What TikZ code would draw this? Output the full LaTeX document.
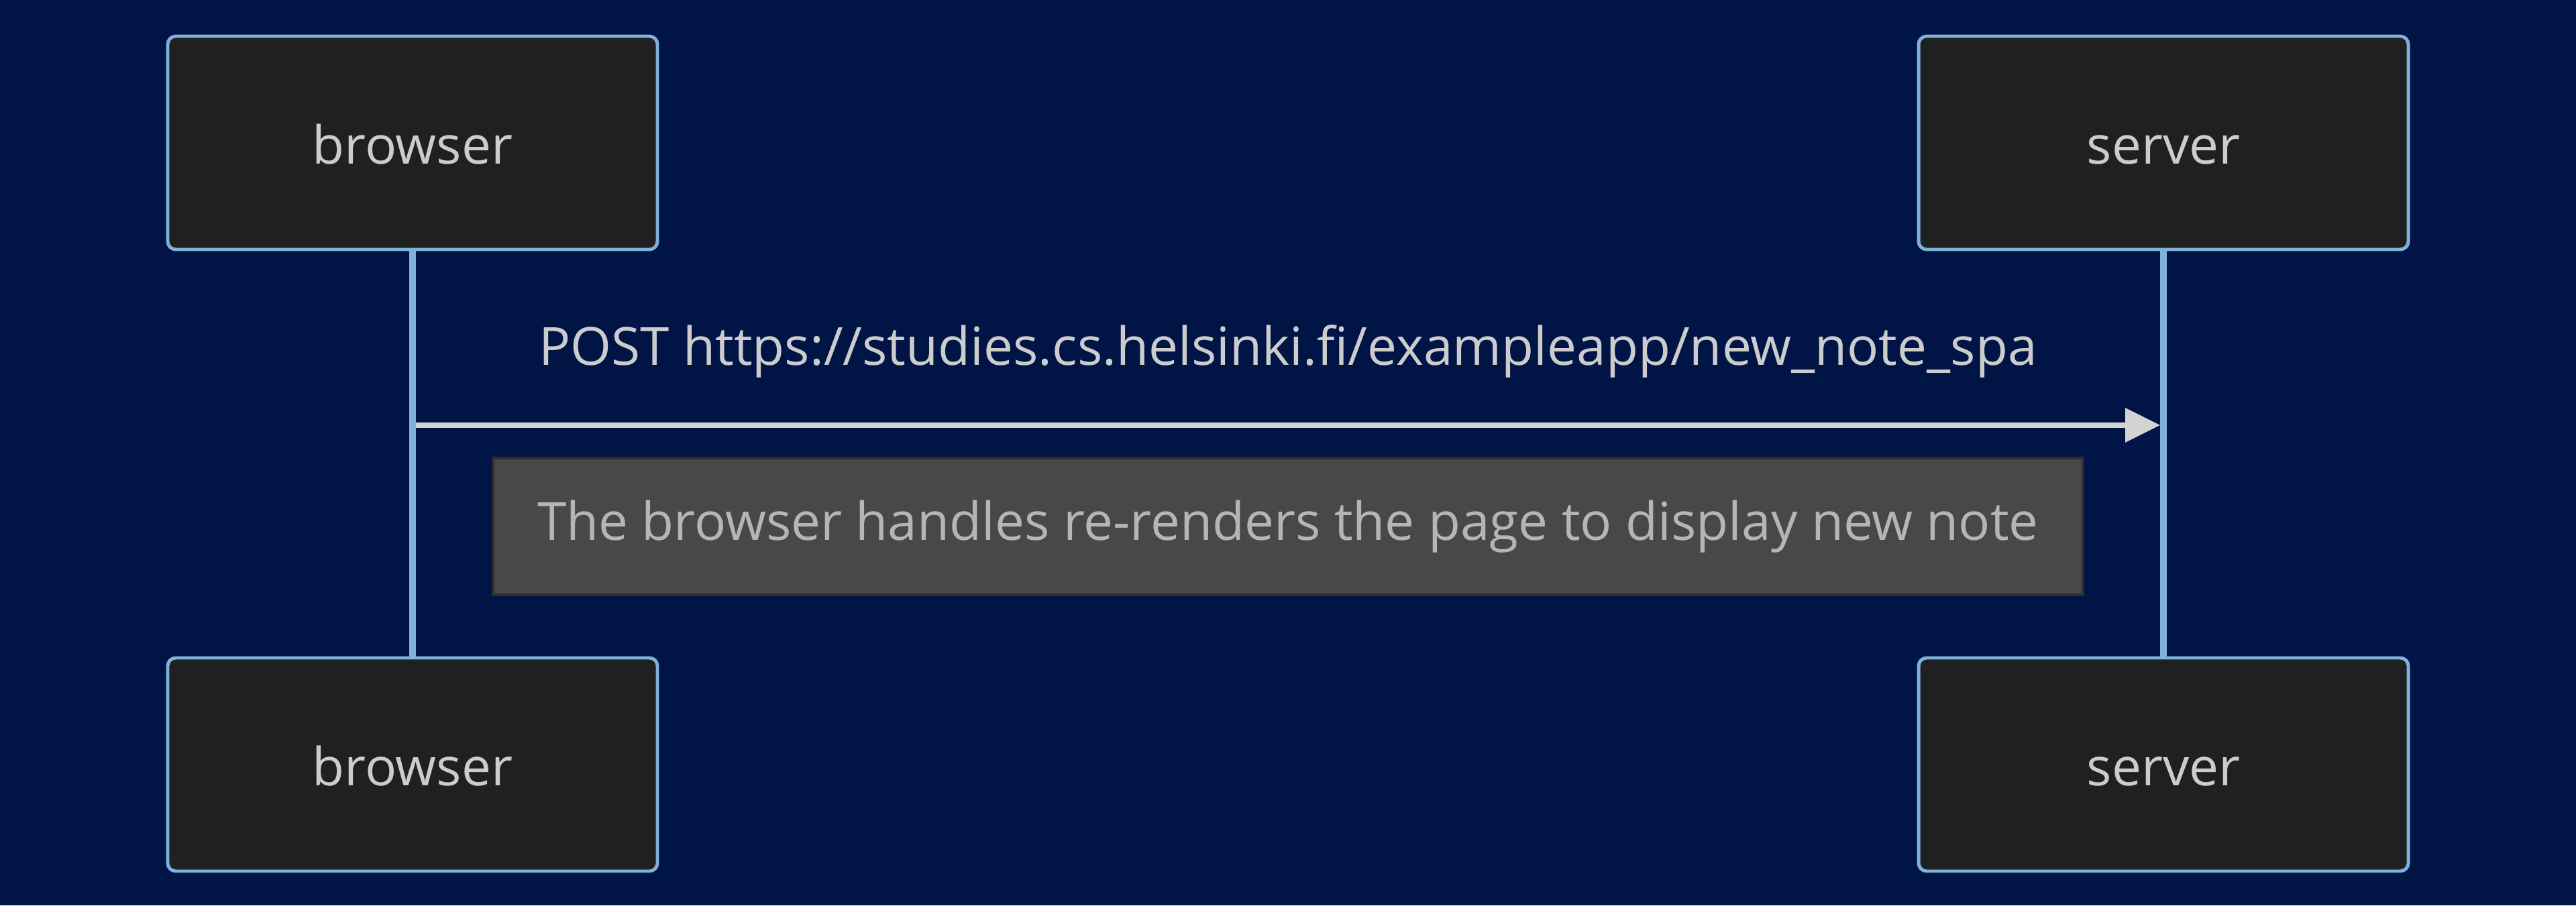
\documentclass[tikz,border=0pt]{standalone}
\usepackage{fontspec}
\setmainfont{Open Sans}
\usetikzlibrary{arrows.meta}
\definecolor{bgnavy}{HTML}{001446}
\definecolor{actfill}{HTML}{1F2020}
\definecolor{actline}{HTML}{81B1DB}
\definecolor{txtgrey}{HTML}{CCCCCC}
\definecolor{notefill}{HTML}{474949}
\definecolor{noteline}{HTML}{2E2E2E}
\definecolor{notetxt}{HTML}{B5B5B5}
\definecolor{msgline}{HTML}{D3D3D3}
\begin{document}
\begin{tikzpicture}[font=\fontsize{22.3}{26}\selectfont,
    act/.style={rectangle, rounded corners=0.12cm, draw=actline, line width=1.4pt, fill=actfill,
      text=txtgrey, minimum width=7.3cm, minimum height=3.18cm, text height=23pt, text depth=5pt},
    life/.style={draw=actline, line width=2.6pt},
    msg/.style={draw=msgline, line width=2pt, -{Triangle[length=0.52cm, width=0.5cm]}},
    lbl/.style={text=txtgrey},
    notebox/.style={rectangle, draw=noteline, line width=1.2pt, fill=notefill, text=notetxt,
      minimum width=23.7cm, minimum height=2.04cm}]
  \fill[bgnavy] (0,0) rectangle (38.4,13.5);
  \useasboundingbox (0,0) rectangle (38.4,13.5);
  % lifelines first, boxes on top
  \draw[life] (6.15,11.37) -- (6.15,2.1);
  \draw[life] (32.25,11.37) -- (32.25,2.1);
  \node[act] (bt) at (6.15,11.37) {browser};
  \node[act] (st) at (32.25,11.37) {server};
  \node[act] (bb) at (6.15,2.1) {browser};
  \node[act] (sb) at (32.25,2.1) {server};
  % message
  \coordinate (m1) at (6.2,7.16); \coordinate (m2) at (32.2,7.16);
  \draw[msg] (m1) -- (m2);
  \node[lbl] (post) at (19.2,8.26) {POST https://studies.cs.helsinki.fi/exampleapp/new\_note\_spa};
  % note
  \node[notebox] (nt) at (19.2,5.65) {The browser handles re-renders the page to display new note};
\end{tikzpicture}
\end{document}
